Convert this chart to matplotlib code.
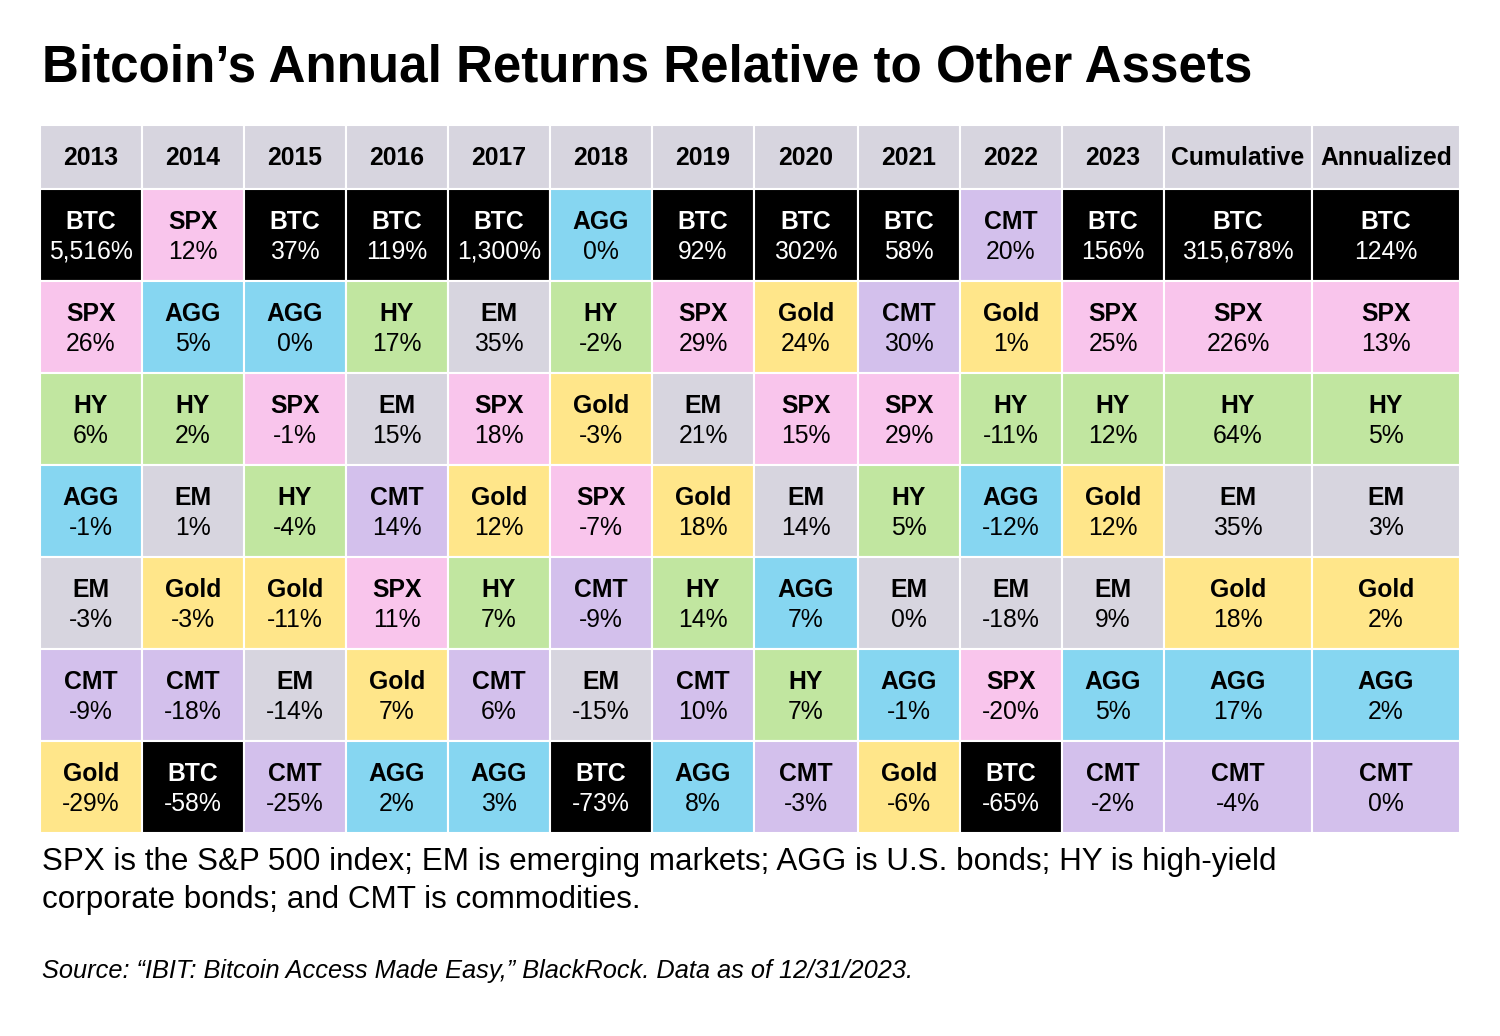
import matplotlib
matplotlib.use("Agg")
import matplotlib.pyplot as plt
from matplotlib.patches import Rectangle

# columns and ranked assets (best to worst) with returns in %
columns = ["2013", "2014", "2015", "2016", "2017", "2018", "2019", "2020",
           "2021", "2022", "2023", "Cumulative", "Annualized"]
assets = [
    ["BTC", "SPX", "HY", "AGG", "EM", "CMT", "Gold"],
    ["SPX", "AGG", "HY", "EM", "Gold", "CMT", "BTC"],
    ["BTC", "AGG", "SPX", "HY", "Gold", "EM", "CMT"],
    ["BTC", "HY", "EM", "CMT", "SPX", "Gold", "AGG"],
    ["BTC", "EM", "SPX", "Gold", "HY", "CMT", "AGG"],
    ["AGG", "HY", "Gold", "SPX", "CMT", "EM", "BTC"],
    ["BTC", "SPX", "EM", "Gold", "HY", "CMT", "AGG"],
    ["BTC", "Gold", "SPX", "EM", "AGG", "HY", "CMT"],
    ["BTC", "CMT", "SPX", "HY", "EM", "AGG", "Gold"],
    ["CMT", "Gold", "HY", "AGG", "EM", "SPX", "BTC"],
    ["BTC", "SPX", "HY", "Gold", "EM", "AGG", "CMT"],
    ["BTC", "SPX", "HY", "EM", "Gold", "AGG", "CMT"],
    ["BTC", "SPX", "HY", "EM", "Gold", "AGG", "CMT"],
]
returns = [
    [5516, 26, 6, -1, -3, -9, -29],
    [12, 5, 2, 1, -3, -18, -58],
    [37, 0, -1, -4, -11, -14, -25],
    [119, 17, 15, 14, 11, 7, 2],
    [1300, 35, 18, 12, 7, 6, 3],
    [0, -2, -3, -7, -9, -15, -73],
    [92, 29, 21, 18, 14, 10, 8],
    [302, 24, 15, 14, 7, 7, -3],
    [58, 30, 29, 5, 0, -1, -6],
    [20, 1, -11, -12, -18, -20, -65],
    [156, 25, 12, 12, 9, 5, -2],
    [315678, 226, 64, 35, 18, 17, -4],
    [124, 13, 5, 3, 2, 2, 0],
]

colors = {"BTC": "#000000", "SPX": "#F9C5EC", "AGG": "#86D6F1", "HY": "#C1E6A0",
          "EM": "#D7D5DF", "Gold": "#FFE68A", "CMT": "#D3C0EC"}
HEADER = "#D7D5DF"

plt.rcParams["font.family"] = ["Liberation Sans", "DejaVu Sans"]

W, H = 1500, 1036
fig = plt.figure(figsize=(W / 100, H / 100), dpi=100)
ax = fig.add_axes([0, 0, 1, 1])
ax.set_xlim(0, W)
ax.set_ylim(H, 0)
ax.axis("off")

# layout in pixels
x0 = 40
widths = [102, 102, 102, 102, 102, 102, 102, 104, 102, 102, 102, 148, 148]
top, head_h, row_h = 125, 64, 92

ax.text(42, 68, "Bitcoin\u2019s Annual Returns Relative to Other Assets",
        fontsize=36.8, fontweight="bold", va="center", ha="left")

x = x0
for j, col in enumerate(columns):
    w = widths[j]
    cx = x + w / 2
    ax.add_patch(Rectangle((x, top), w, head_h, facecolor=HEADER,
                           edgecolor="white", lw=1.5))
    ax.text(cx, top + head_h / 2 + 1, col, fontsize=17.8, fontweight="bold",
            ha="center", va="center")
    for i, (a, v) in enumerate(zip(assets[j], returns[j])):
        y = top + head_h + i * row_h
        ax.add_patch(Rectangle((x, y), w, row_h, facecolor=colors[a],
                               edgecolor="white", lw=1.5))
        tc = "white" if a == "BTC" else "black"
        ax.text(cx, y + 33, a, fontsize=17.8, fontweight="bold", color=tc,
                ha="center", va="center")
        ax.text(cx, y + 63, f"{v:,}%", fontsize=17.8, color=tc,
                ha="center", va="center")
    x += w

ax.text(42, 862, "SPX is the S&P 500 index; EM is emerging markets; AGG is U.S. bonds; HY is high-yield",
        fontsize=22.6, ha="left", va="center")
ax.text(42, 900, "corporate bonds; and CMT is commodities.",
        fontsize=22.6, ha="left", va="center")
ax.text(42, 971, "Source: \u201cIBIT: Bitcoin Access Made Easy,\u201d BlackRock. Data as of 12/31/2023.",
        fontsize=18.3, style="italic", ha="left", va="center")

fig.savefig("out.png", dpi=100)
